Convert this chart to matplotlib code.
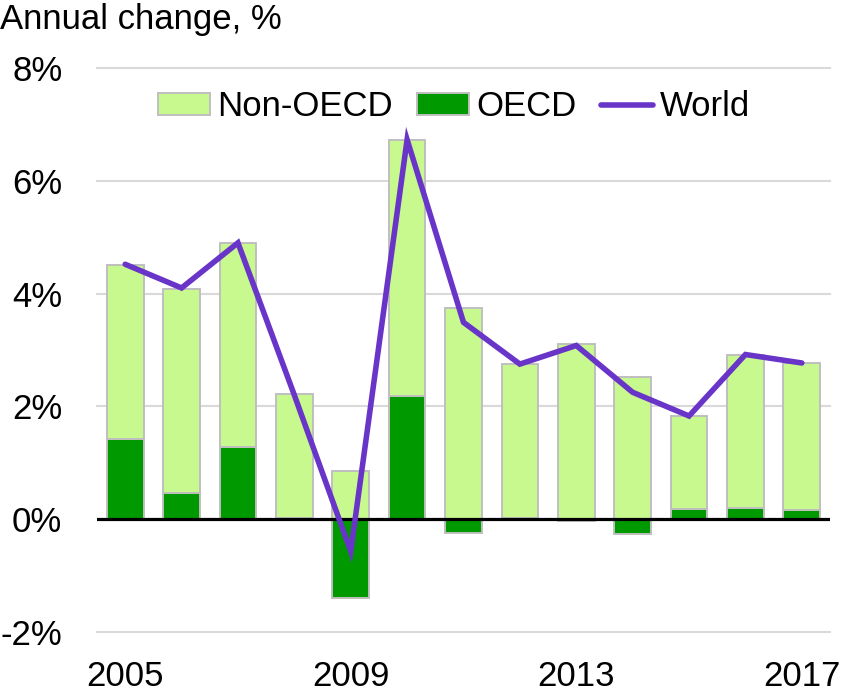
import matplotlib.pyplot as plt
import numpy as np

plt.rcParams['font.family'] = ['Liberation Sans', 'DejaVu Sans']

# data
years = [2005, 2006, 2007, 2008, 2009, 2010, 2011, 2012, 2013, 2014, 2015, 2016, 2017]
oecd = [1.42, 0.47, 1.28, 0.03, -1.40, 2.19, -0.25, 0.03, -0.03, -0.27, 0.18, 0.19, 0.16]
total = [4.51, 4.09, 4.89, 2.22, 0.86, 6.73, 3.74, 2.75, 3.10, 2.52, 1.83, 2.92, 2.77]
world = [4.52, 4.10, 4.90, 2.20, -0.57, 6.73, 3.49, 2.75, 3.08, 2.25, 1.83, 2.92, 2.77]
tick_years = ['2005', '2009', '2013', '2017']

oecd = np.array(oecd)
total = np.array(total)
base = np.maximum(oecd, 0)
non_oecd = total - base

x = np.arange(len(years))

fig = plt.figure(figsize=(8.41, 6.93), dpi=100)
ax = fig.add_axes([97 / 841, 61 / 693, 733 / 841, 564 / 693])

edge = '#BFBFBF'
b_oecd = ax.bar(x, oecd, width=0.65, color='#009900', edgecolor=edge,
                linewidth=1.4, zorder=2)
b_non = ax.bar(x, non_oecd, bottom=base, width=0.65, color='#C8F98E',
               edgecolor=edge, linewidth=1.4, zorder=2)
l_world, = ax.plot(x, world, color='#6935C9', linewidth=4, solid_capstyle='round',
                   solid_joinstyle='miter', zorder=4)

for g in [8, 6, 4, 2, -2]:
    ax.axhline(g, color='#D9D9D9', linewidth=1.5, zorder=1, clip_on=False)
ax.axhline(0, color='black', linewidth=2.3, zorder=3)

ax.set_xlim(-0.5, len(years) - 0.5)
ax.set_ylim(-2, 8)
ax.set_yticks([-2, 0, 2, 4, 6, 8])
ax.set_yticklabels(['-2%', '0%', '2%', '4%', '6%', '8%'], fontsize=25)
ax.set_xticks([years.index(int(t)) for t in tick_years])
ax.set_xticklabels(tick_years, fontsize=25)
ax.tick_params(axis='y', length=0, pad=25)
ax.tick_params(axis='x', length=0, pad=20)
for s in ax.spines.values():
    s.set_visible(False)

fig.legend([b_non, b_oecd, l_world], ['Non-OECD', 'OECD', 'World'],
           loc='center', bbox_to_anchor=(454 / 841, 1 - 107 / 693), ncol=3,
           frameon=False, fontsize=25, handlelength=1.5, handleheight=0.6,
           handletextpad=0.2, columnspacing=0.7, borderaxespad=0)

fig.text(0.0, 1 - 3 / 693, 'Annual change, %', fontsize=25, ha='left', va='top')

fig.savefig('out.png', dpi=100)
